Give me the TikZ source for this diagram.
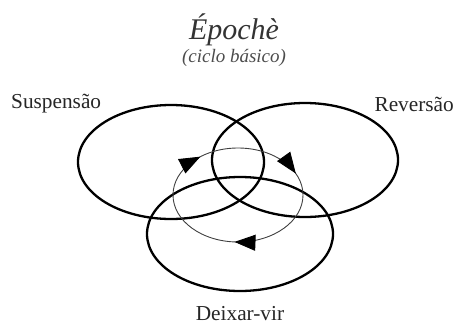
\documentclass[tikz,border=0pt]{standalone}
\usepackage{fontspec}
\setmainfont{Liberation Serif}
\usetikzlibrary{decorations.markings,arrows.meta}
\begin{document}
\begin{tikzpicture}[x=1pt,y=-1pt,
  ring/.style={line width=2.3pt,black},
  cycle/.style={line width=0.9pt,black!75,
    postaction={decorate},
    decoration={markings,
      mark=at position 0.26 with {\arrow[black]{Triangle[length=21pt,width=16pt]}},
      mark=at position 0.64 with {\arrow[black]{Triangle[length=21pt,width=16pt]}},
      mark=at position 0.935 with {\arrow[black]{Triangle[length=21pt,width=16pt]}}}},
  lbl/.style={font=\fontsize{21.3}{23}\selectfont,text=black!85,inner sep=0pt}]
\useasboundingbox (0,0) rectangle (455,327);
\draw[ring] (171,162) ellipse [x radius=93, y radius=57];
\draw[ring] (305,160) ellipse [x radius=93, y radius=57];
\draw[ring] (240,234) ellipse [x radius=93, y radius=57];
\draw[cycle] (238,195) ellipse [x radius=65, y radius=47];
\node[font=\fontsize{30}{32}\selectfont\itshape,text=black!80,inner sep=0pt] (title) at (234,30) {Épochè};
\node[font=\fontsize{19}{20}\selectfont\itshape,text=black!70,inner sep=0pt] (sub) at (234,58) {(ciclo básico)};
\node[lbl,anchor=west] (susp) at (11,104) {Suspensão};
\node[lbl,anchor=east] (rev) at (454,104) {Reversão};
\node[lbl] (deix) at (240,314) {Deixar-vir};
\end{tikzpicture}
\end{document}
